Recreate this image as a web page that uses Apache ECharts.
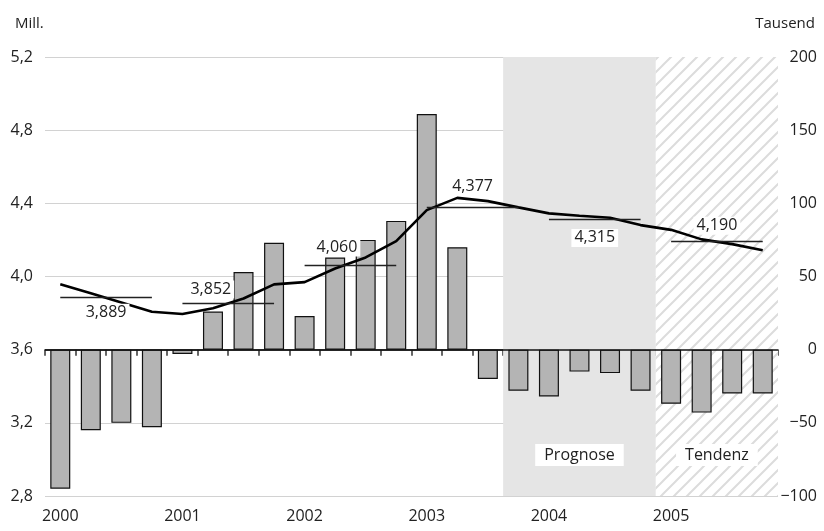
<!DOCTYPE html>
<html>
<head>
<meta charset="utf-8">
<script src="https://cdn.jsdelivr.net/npm/echarts@6/dist/echarts.min.js"></script>
<style>
  html, body { margin: 0; padding: 0; background: #fff; }
  #chart { width: 824px; height: 531px; }
</style>
</head>
<body>
<div id="chart"></div>
<script>
// Quartale 2000 bis 2005
const quarters = [
  '2000-1', '2000-2', '2000-3', '2000-4',
  '2001-1', '2001-2', '2001-3', '2001-4',
  '2002-1', '2002-2', '2002-3', '2002-4',
  '2003-1', '2003-2', '2003-3', '2003-4',
  '2004-1', '2004-2', '2004-3', '2004-4',
  '2005-1', '2005-2', '2005-3', '2005-4'
]
// Veraenderung in Tausend (rechte Achse)
const changeTsd = [-95, -55, -50, -53, -3, 26, 53, 73, 23, 63, 75, 88,
  161, 70, -20, -28, -32, -15, -16, -28, -37, -43, -30, -30]
// Bestand in Mill. (linke Achse)
const stockMill = [3.957, 3.908, 3.858, 3.807, 3.795, 3.826, 3.880, 3.957,
  3.969, 4.044, 4.104, 4.193, 4.363, 4.430, 4.412, 4.378,
  4.345, 4.332, 4.321, 4.281, 4.255, 4.203, 4.177, 4.144]
// Jahresdurchschnitte
const years = ['2000', '2001', '2002', '2003', '2004', '2005']
const yearAvg = [3.889, 3.852, 4.060, 4.377, 4.315, 4.190]
// Prognose / Tendenz (Quartalsgrenzen)
const forecastRange = [15, 20]
const trendRange = [20, 24]

const fontFamily = '"Open Sans", "Noto Sans", sans-serif'
const textColor = '#222'

// Schraffur fuer "Tendenz"
const hatch = document.createElement('canvas')
hatch.width = 13
hatch.height = 13
const hctx = hatch.getContext('2d')
hctx.fillStyle = '#fff'
hctx.fillRect(0, 0, 13, 13)
hctx.strokeStyle = '#dcdcdc'
hctx.lineWidth = 2
hctx.beginPath()
hctx.moveTo(-2, 15); hctx.lineTo(15, -2)
hctx.moveTo(-2, 2); hctx.lineTo(2, -2)
hctx.moveTo(11, 15); hctx.lineTo(15, 11)
hctx.stroke()

const avgLabel = [
  { position: 'insideMiddleBottom', distance: 7 },
  { position: 'insideStartTop', distance: 5 },
  { position: 'insideStartTop', distance: 9 },
  { position: 'insideMiddleTop', distance: 12 },
  { position: 'insideMiddleBottom', distance: 10 },
  { position: 'insideMiddleTop', distance: 7 }
]

const fmt = (v) => String(v).replace('.', ',').replace('-', '\u2212')

const chart = echarts.init(document.getElementById('chart'))

const option = {
  animation: false,
  textStyle: { fontFamily: fontFamily },
  title: [
    { text: 'Mill.', left: 10, top: 11, textStyle: { fontSize: 15, fontWeight: 'normal', color: textColor, fontFamily: fontFamily } },
    { text: 'Tausend', right: 4, top: 11, textStyle: { fontSize: 15, fontWeight: 'normal', color: textColor, fontFamily: fontFamily } }
  ],
  grid: { left: 45, right: 46, top: 57, bottom: 35 },
  xAxis: [
    {
      type: 'category',
      data: quarters,
      boundaryGap: true,
      axisLine: { lineStyle: { color: '#333', width: 1.5 } },
      axisTick: { show: true, length: 6, lineStyle: { color: '#333', width: 1.5 } },
      axisLabel: {
        interval: 0,
        margin: 12,
        fontSize: 16,
        color: textColor,
        fontFamily: fontFamily,
        formatter: (v) => (v.endsWith('-1') ? v.slice(0, 4) : '')
      },
      splitLine: { show: false }
    },
    { type: 'value', min: 0, max: 24, show: false }
  ],
  yAxis: [
    {
      type: 'value',
      min: 2.8,
      max: 5.2,
      interval: 0.4,
      axisLine: { show: false },
      axisTick: { show: false },
      axisLabel: { margin: 12, fontSize: 16, color: textColor, fontFamily: fontFamily, formatter: (v) => fmt(v.toFixed(1)) },
      splitLine: { show: true, lineStyle: { color: '#d2d2d2', width: 1.2 } }
    },
    {
      type: 'value',
      min: -100,
      max: 200,
      interval: 50,
      axisLine: { show: false },
      axisTick: { show: false },
      axisLabel: { margin: 39, align: 'right', fontSize: 16, color: textColor, fontFamily: fontFamily, formatter: (v) => fmt(v) },
      splitLine: { show: false }
    }
  ],
  series: [
    {
      // Hintergrund: Prognose / Tendenz
      type: 'line',
      xAxisIndex: 1,
      yAxisIndex: 0,
      data: [],
      z: -1,
      silent: true,
      markArea: {
        silent: true,
        label: {
          position: 'insideBottom',
          distance: 30,
          fontSize: 16,
          color: textColor,
          fontFamily: fontFamily,
          backgroundColor: '#fff',
          padding: [3, 9]
        },
        data: [
          [{ xAxis: forecastRange[0], name: 'Prognose', itemStyle: { color: '#e5e5e5' } }, { xAxis: forecastRange[1] }],
          [{ xAxis: trendRange[0], name: 'Tendenz', itemStyle: { color: { image: hatch, repeat: 'repeat' } } }, { xAxis: trendRange[1] }]
        ]
      }
    },
    {
      name: 'Veraenderung',
      type: 'bar',
      yAxisIndex: 1,
      data: changeTsd,
      barWidth: 20,
      itemStyle: { color: '#b4b4b4', borderColor: '#111', borderWidth: 1.2 },
      markLine: {
        silent: true,
        symbol: 'none',
        label: { show: false },
        lineStyle: { color: '#111', width: 1.5, type: 'solid' },
        data: [{ yAxis: 0 }]
      }
    },
    {
      name: 'Bestand',
      type: 'line',
      yAxisIndex: 0,
      data: stockMill,
      symbol: 'none',
      z: 4,
      lineStyle: { color: '#000', width: 2.6 },
      markLine: {
        silent: true,
        symbol: 'none',
        lineStyle: { color: '#222', width: 1.4, type: 'solid' },
        label: {
          fontSize: 16,
          color: textColor,
          fontFamily: fontFamily,
          backgroundColor: '#fff',
          padding: [1, 3]
        },
        data: years.map((y, i) => [
          {
            coord: [i * 4, yearAvg[i]],
            label: Object.assign({ formatter: fmt(yearAvg[i].toFixed(3)) }, avgLabel[i])
          },
          { coord: [i * 4 + 3, yearAvg[i]] }
        ])
      }
    }
  ]
}

chart.setOption(option)
</script>
</body>
</html>
